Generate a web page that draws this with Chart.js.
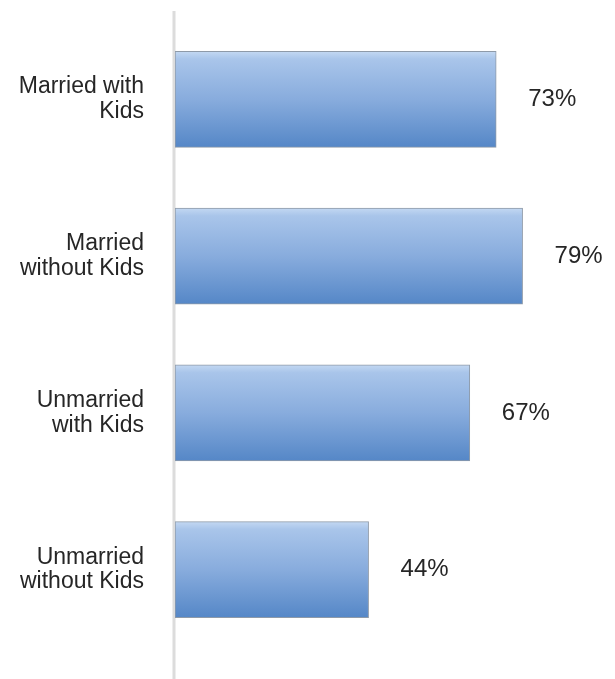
<!DOCTYPE html>
<html lang="en">
<head>
    <meta charset="UTF-8">
    <title>Kids and marriage</title>
    <script src="https://cdn.jsdelivr.net/npm/chart.js"></script>
    <style>
        html, body { margin: 0; padding: 0; background: #fff; }
        #wrap { width: 615px; height: 679px; }
    </style>
</head>
<body>
    <div id="wrap"><canvas id="kidsChart" width="615" height="679"></canvas></div>
    <script>
        // data
        const categories = [
            ['Married with', 'Kids'],
            ['Married', 'without Kids'],
            ['Unmarried', 'with Kids'],
            ['Unmarried', 'without Kids']
        ];
        const shares = [73, 79, 67, 44];
        const valueLabels = ['73%', '79%', '67%', '44%'];

        const BAR_H = 96;
        const FONT = '"Liberation Sans", Arial, sans-serif';
        const TEXT_COLOR = '#262626';

        function barGradient(context) {
            const chart = context.chart;
            const y = chart.scales && chart.scales.y;
            if (!chart.chartArea || !y) return '#7ea5d8';
            const mid = y.getPixelForValue(context.dataIndex);
            const g = chart.ctx.createLinearGradient(0, mid - BAR_H / 2, 0, mid + BAR_H / 2);
            g.addColorStop(0, '#c3d8f2');
            g.addColorStop(0.08, '#a9c5ea');
            g.addColorStop(0.5, '#88acdd');
            g.addColorStop(1, '#5587c7');
            return g;
        }

        // light grey axis line running the full height
        const axisLine = {
            id: 'axisLine',
            beforeDatasetsDraw(chart) {
                const ctx = chart.ctx;
                const x = chart.chartArea.left;
                ctx.save();
                ctx.strokeStyle = '#dcdcdc';
                ctx.lineWidth = 3;
                ctx.beginPath();
                ctx.moveTo(x - 1, 11);
                ctx.lineTo(x - 1, chart.height);
                ctx.stroke();
                ctx.restore();
            }
        };

        // percentages to the right of each bar
        const valueText = {
            id: 'valueText',
            afterDatasetsDraw(chart) {
                const ctx = chart.ctx;
                const meta = chart.getDatasetMeta(0);
                ctx.save();
                ctx.font = '24px ' + FONT;
                ctx.fillStyle = TEXT_COLOR;
                ctx.textAlign = 'left';
                ctx.textBaseline = 'middle';
                meta.data.forEach((bar, i) => {
                    ctx.fillText(valueLabels[i], bar.x + 32, bar.y);
                });
                ctx.restore();
            }
        };

        const ctx = document.getElementById('kidsChart').getContext('2d');
        new Chart(ctx, {
            type: 'bar',
            data: {
                labels: categories,
                datasets: [{
                    data: shares,
                    backgroundColor: barGradient,
                    borderColor: '#8e9aa8',
                    borderWidth: 1,
                    borderSkipped: false,
                    barThickness: BAR_H
                }]
            },
            options: {
                indexAxis: 'y',
                responsive: false,
                animation: false,
                layout: { padding: { top: 21, bottom: 31, right: 0, left: 0 } },
                plugins: {
                    legend: { display: false },
                    tooltip: { enabled: false }
                },
                scales: {
                    x: {
                        min: 0,
                        max: 100,
                        display: false
                    },
                    y: {
                        grid: { display: false, drawTicks: false },
                        border: { display: false },
                        ticks: {
                            color: TEXT_COLOR,
                            padding: 31,
                            font: { family: FONT, size: 23, lineHeight: 1.08 }
                        },
                        afterFit(scale) {
                            scale.width = 175;
                            scale.paddingTop = 0;
                            scale.paddingBottom = 0;
                        }
                    }
                }
            },
            plugins: [axisLine, valueText]
        });
    </script>
</body>
</html>
